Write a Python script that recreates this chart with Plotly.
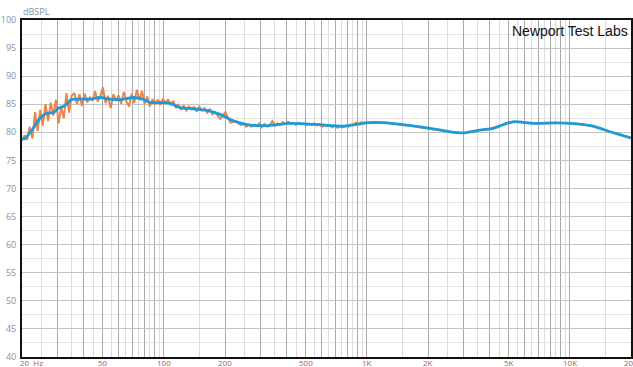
import math
import plotly.graph_objects as go

# ---------------- data ----------------
smooth_freq = [20, 20.7, 22.7, 24.5, 26.5, 28.5, 30.2, 31.9, 33.2, 34.8, 38.6, 43.3, 48.5, 54.3,
               60.8, 70.5, 78.9, 85.4, 95.7, 107, 120, 139, 163, 189, 212, 237, 266, 321, 418,
               566, 765, 1000, 1250, 1570, 2050, 2570, 2990, 3610, 4200, 4880, 5370, 6600,
               8610, 10800, 13040, 15760, 20000]
smooth_db = [78.8, 78.9, 80.7, 82.5, 83.4, 83.5, 84.3, 84.6, 85.0, 85.8, 85.9, 85.9, 86.2, 85.9,
             85.8, 86.2, 85.9, 85.3, 85.3, 85.2, 84.4, 84.2, 83.9, 83.2, 82.3, 81.7, 81.3, 81.2, 81.6,
             81.4, 81.1, 81.7, 81.7, 81.3, 80.7, 80.1, 79.9, 80.4, 80.7, 81.6, 81.9, 81.6,
             81.7, 81.5, 81.1, 80.1, 79.0]

raw_freq = [20, 20.6, 21.2, 21.8, 22.5, 23.2, 23.9, 24.6, 25.3, 26.1, 26.9, 27.7, 28.5, 29.4,
            30.3, 31.2, 32.1, 33.1, 34.1, 35.1, 36.2, 37.3, 38.4, 39.5, 40.7, 41.9, 43.2, 44.5,
            45.8, 47.2, 48.6, 50.1, 51.6, 53.1, 54.7, 56.4, 58.1, 59.8, 61.6, 63.5, 65.4, 67.3,
            69.4, 71.4, 73.6, 75.8, 78.1, 80.4, 82.8, 85.3, 87.9, 90.5, 93.2, 96, 98.9, 101.9,
            104.9, 108, 111.3, 114.6, 118, 121.6, 125.2, 129, 132.9, 136.9, 141, 145.2, 149.5,
            154, 158.7, 163.4, 168.3, 173.4, 178.6, 183.9, 189.4, 195.1, 201, 207, 213, 220, 226,
            233, 240, 247, 255, 262, 270, 278, 287, 295, 304, 313, 323, 332, 342, 353, 363, 374,
            385, 397, 409, 421, 434, 447, 460, 474, 488, 503, 518, 534, 550, 566, 583, 601, 619,
            637, 656, 676, 696, 717, 739, 761, 784, 807, 832, 856, 882, 909, 936, 964, 993,
            1050, 1120, 1200, 1300, 1400, 1500, 1650, 1800, 2000, 2200, 2400, 2600, 2800, 3000,
            3300, 3600, 4000, 4400, 4800, 5200, 5600, 6200, 7000, 8000, 9000, 10000, 11500,
            13000, 15000, 17000, 20000]
raw_db = [78.6, 79.5, 78.7, 81.0, 78.9, 83.6, 80.2, 84.0, 81.2, 85.0, 82.0, 85.3, 83.0, 85.8,
          81.6, 84.5, 82.5, 87.0, 83.5, 86.5, 87.0, 85.0, 86.8, 84.7, 86.9, 85.3, 86.2, 85.6,
          87.3, 85.5, 86.4, 88.0, 85.2, 86.5, 84.3, 86.8, 85.6, 86.6, 85.1, 87.2, 85.5, 84.6,
          86.9, 85.2, 87.6, 85.7, 87.4, 85.0, 86.4, 84.6, 85.9, 85.0, 85.8, 84.9, 86.0, 85.2,
          85.9, 84.8, 85.6, 84.3, 84.9, 84.0, 84.8, 83.9, 84.6, 84.1, 84.5, 83.7, 84.6,
          83.9, 84.3, 83.5, 84.1, 83.2, 83.6, 82.9, 82.4, 83.0, 83.6, 82.5, 81.7, 81.9, 82.0,
          81.6, 81.3, 81.5, 81.0, 81.4, 81.0, 81.3, 81.1, 81.6, 80.9, 81.5, 81.0, 81.3, 82.0, 81.2, 81.6, 81.3,
          81.8, 81.5, 81.9, 81.6, 81.7, 81.3, 81.7, 81.4, 81.6, 81.2, 81.5, 81.3, 81.6, 81.2, 81.4, 81.0, 81.3,
          81.1, 81.2, 80.9, 81.2, 80.8, 81.1, 80.9, 81.2, 81.0, 81.4, 81.3, 81.7, 81.5, 81.8, 81.7, 81.8,
          81.8, 81.7, 81.8, 81.6, 81.5, 81.3, 81.2, 80.9, 80.7, 80.5, 80.2, 80.1, 79.9, 79.9,
          80.2, 80.4, 80.6, 81.0, 81.5, 81.9, 81.8, 81.7, 81.6, 81.7, 81.7, 81.6, 81.4,
          81.1, 80.4, 79.8, 79.0]

tick_freqs = [20, 50, 100, 200, 500, 1000, 2000, 5000, 10000, 20000]
tick_labels = ["20  Hz", "50", "100", "200", "500", "1K", "2K", "5K", "10K", "20K"]

major_grid = [20, 30, 40, 50, 60, 70, 80, 90, 100, 200, 300, 400, 500, 600, 700, 800, 900,
              1000, 2000, 3000, 4000, 5000, 6000, 7000, 8000, 9000, 10000, 20000]
minor_grid = [25, 35, 45, 55, 65, 75, 85, 95, 150, 250, 350, 450, 550, 650, 750, 850, 950,
              1500, 2500, 3500, 4500, 5500, 6500, 7500, 8500, 9500, 15000]

x_lo, x_hi = math.log10(20), math.log10(20000)

# ---------------- figure ----------------
fig = go.Figure()
fig.add_trace(go.Scatter(x=raw_freq, y=raw_db, mode="lines",
                         line=dict(color="#ef844a", width=2), hoverinfo="skip"))
fig.add_trace(go.Scatter(x=smooth_freq, y=smooth_db, mode="lines",
                         line=dict(color="#1e9ad6", width=2.8, shape="spline", smoothing=0.6),
                         hoverinfo="skip"))

lab_font = dict(family="Open Sans, Liberation Sans, sans-serif", size=8, color="#b5594f")
for f, t in zip(tick_freqs, tick_labels):
    first = f == tick_freqs[0]
    xv = math.log10(f)
    xv = min(max(xv, x_lo + 1e-6), x_hi - 1e-6)
    fig.add_annotation(x=xv, y=0, xref="x", yref="paper", text=t,
                       showarrow=False, xanchor="left" if first else "center", yanchor="top",
                       xshift=-3 if first else 0, yshift=1, font=lab_font, borderpad=0)

fig.add_annotation(x=0, y=1, xref="paper", yref="paper", text="dBSPL", showarrow=False,
                   xanchor="left", yanchor="bottom", yshift=1, borderpad=0,
                   font=dict(family="Open Sans, Liberation Sans, sans-serif", size=9, color="#8393a8"))
fig.add_annotation(x=1, y=1, xref="paper", yref="paper", text="Newport Test Labs",
                   showarrow=False, xanchor="right", yanchor="top", xshift=-1, yshift=-1,
                   font=dict(family="Liberation Sans, Arial, sans-serif", size=14, color="#111111"))

fig.update_layout(
    width=633, height=367,
    margin=dict(l=22, r=2, t=20, b=10, autoexpand=False),
    paper_bgcolor="white", plot_bgcolor="white",
    showlegend=False,
    xaxis=dict(type="log", range=[x_lo, x_hi], tickmode="array", tickvals=major_grid,
               showticklabels=False, ticks="", showgrid=True, gridcolor="#a9a9a9", gridwidth=1.3,
               automargin=False,
               minor=dict(tickmode="array", tickvals=minor_grid, showgrid=True,
                          gridcolor="#dcdcdc", gridwidth=1.3, ticks=""),
               showline=True, linecolor="#111111", linewidth=2, mirror=True, zeroline=False),
    yaxis=dict(range=[40, 100], dtick=5, tick0=40, showgrid=True, gridcolor="#c4c4c4", gridwidth=1.2,
               automargin=False,
               minor=dict(dtick=2.5, showgrid=True, gridcolor="#e6e6e6", gridwidth=1, ticks=""),
               ticks="", ticklabelstandoff=2,
               tickfont=dict(family="Open Sans, Liberation Sans, sans-serif", size=9, color="#8393a8"),
               showline=True, linecolor="#111111", linewidth=2, mirror=True, zeroline=False),
)

fig.write_html("out.html", config={"displayModeBar": False},
               post_script="document.body.style.margin='0';document.body.style.overflow='hidden';")
